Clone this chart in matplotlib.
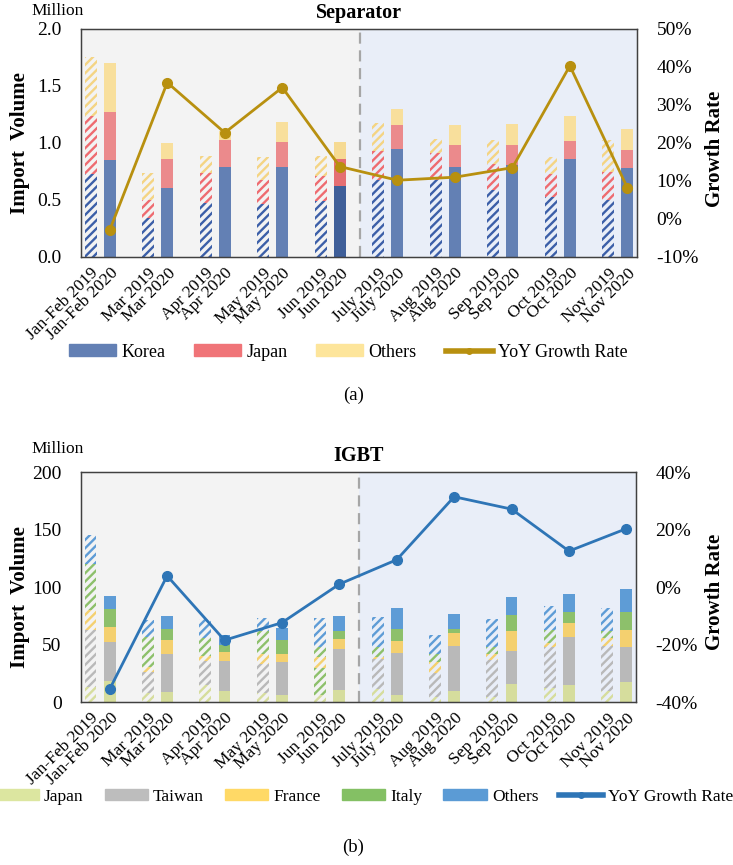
import numpy as np
import matplotlib
matplotlib.use("Agg")
import matplotlib.pyplot as plt
import matplotlib.ticker as mticker
from matplotlib.patches import Patch
from matplotlib.lines import Line2D

plt.rcParams.update({
    "font.family": ["Liberation Serif", "DejaVu Serif"],
    "hatch.linewidth": 1.7,
})

PERIODS = ["Jan-Feb", "Mar", "Apr", "May", "Jun", "July", "Aug", "Sep", "Oct", "Nov"]

# ---- Separator (million) ----
SEP_KOREA_19 = [0.73, 0.345, 0.474, 0.465, 0.491, 0.675, 0.675, 0.588, 0.524, 0.50]
SEP_JAPAN_19 = [0.51, 0.155, 0.26, 0.208, 0.222, 0.255, 0.237, 0.231, 0.207, 0.246]
SEP_OTHERS_19 = [0.51, 0.237, 0.155, 0.204, 0.176, 0.243, 0.12, 0.204, 0.146, 0.28]
SEP_KOREA_20 = [0.85, 0.608, 0.787, 0.787, 0.626, 0.95, 0.792, 0.804, 0.857, 0.784]
SEP_JAPAN_20 = [0.425, 0.252, 0.243, 0.222, 0.234, 0.205, 0.188, 0.176, 0.161, 0.156]
SEP_OTHERS_20 = [0.425, 0.137, 0.075, 0.175, 0.149, 0.14, 0.175, 0.184, 0.222, 0.18]
SEP_GROWTH = [-2.9, 35.9, 22.7, 34.6, 13.8, 10.2, 11.0, 13.5, 40.3, 8.2]

# ---- IGBT (million) ----
IGBT_JAPAN_19 = [13, 7.5, 14.8, 7.5, 6, 11, 4.6, 4.6, 11.9, 9.6]
IGBT_TAIWAN_19 = [49.6, 18.3, 20.6, 25.5, 23.3, 26.1, 20.4, 31.9, 35.6, 39.1]
IGBT_FRANCE_19 = [17.4, 4.7, 4.9, 8.7, 10.1, 2.3, 10, 5.5, 4.1, 6.7]
IGBT_ITALY_19 = [40, 26, 15.7, 20.3, 8.6, 8.1, 6.5, 5.5, 11, 6.3]
IGBT_OTHERS_19 = [25, 14.8, 16, 11, 24.8, 26.1, 16.5, 24.5, 20.9, 19.8]
IGBT_JAPAN_20 = [18, 8.7, 9.6, 6, 10.4, 5.8, 9.6, 15.6, 14.8, 17.7]
IGBT_TAIWAN_20 = [34, 33, 26.4, 28.5, 35.6, 36.5, 39.4, 28.7, 41.4, 30.4]
IGBT_FRANCE_20 = [13, 12.3, 7.5, 7.2, 8.8, 10.7, 11.3, 17.7, 12.2, 14.8]
IGBT_ITALY_20 = [15.6, 9.5, 5.8, 12.3, 7.2, 10.5, 3.2, 13.6, 10.1, 15.6]
IGBT_OTHERS_20 = [11.9, 11.5, 9, 10, 13, 18, 13, 16, 15.1, 19.5]
IGBT_GROWTH = [-35.5, 3.9, -18.5, -12.4, 1.0, 9.5, 31.4, 27.1, 12.5, 20.3]

BG_LEFT = "#f3f3f3"
BG_RIGHT = "#e9eef8"

# slots: 2019, 2020, gap  (no gap after last pair)
N_SLOTS = 3 * len(PERIODS) - 1
X19 = np.arange(len(PERIODS)) * 3
X20 = X19 + 1
WIDTH = 0.62


def base_axes(ax, ymax, ystep, rlim, rstep, title):
    ax.set_xlim(-0.5, N_SLOTS - 0.5)
    ax.axvspan(-0.5, 14.05, color=BG_LEFT, zorder=0, lw=0)
    ax.axvspan(14.05, N_SLOTS - 0.5, color=BG_RIGHT, zorder=0, lw=0)
    ax.axvline(14.05, color="#a6a6a6", lw=1.6, ls=(0, (5, 3)), zorder=1)
    ax.set_ylim(0, ymax)
    ax.set_yticks(np.arange(0, ymax + ystep / 2, ystep))
    for s in ax.spines.values():
        s.set_color("#404040")
        s.set_linewidth(1.0)
    ax.tick_params(length=0, labelsize=14, pad=14)
    ticks = sorted(list(X19) + list(X20))
    labels = []
    for p in PERIODS:
        labels += [f"{p} 2019", f"{p} 2020"]
    ax.set_xticks(ticks)
    ax.set_xticklabels(labels, rotation=45, ha="right", va="top",
                       rotation_mode="anchor", fontsize=12.5)
    ax.tick_params(axis="x", pad=6)

    ax2 = ax.twinx()
    ax2.set_ylim(*rlim)
    ax2.set_yticks(np.arange(rlim[0], rlim[1] + rstep / 2, rstep))
    ax2.yaxis.set_major_formatter(mticker.FuncFormatter(lambda v, _: f"{v:.0f}%"))
    ax2.tick_params(length=0, labelsize=14, pad=14)
    for s in ax2.spines.values():
        s.set_color("#404040")
    ax2.set_zorder(ax.get_zorder() + 1)
    ax2.patch.set_visible(False)
    ax.set_title(title, fontsize=14.5, fontweight="bold", pad=8)
    return ax2


def stack(ax, x, series, colors, hatched, overrides=None):
    bottom = np.zeros(len(x))
    for k, (vals, col) in enumerate(zip(series, colors)):
        vals = np.asarray(vals, dtype=float)
        for i in range(len(x)):
            c = col
            if overrides and (i, k) in overrides:
                c = overrides[(i, k)]
            if hatched:
                ax.bar(x[i], vals[i], WIDTH, bottom=bottom[i], facecolor="none",
                       edgecolor=c, hatch="////", lw=0, zorder=2)
            else:
                ax.bar(x[i], vals[i], WIDTH, bottom=bottom[i], color=c,
                       lw=0, zorder=2)
        bottom += vals


fig = plt.figure(figsize=(7.33, 8.65), dpi=100)

# ---------------- (a) Separator ----------------
ax = fig.add_axes([0.1105, 0.7029, 0.7585, 0.2636])
ax2 = base_axes(ax, 2.0, 0.5, (-10, 50), 10, "Separator")
ax.yaxis.set_major_formatter(mticker.FormatStrFormatter("%.1f"))

sep_fill = ["#6380b4", "#eb8a8c", "#f8df9c"]
sep_hatch = ["#3c5fa8", "#ee6b70", "#f4d483"]
stack(ax, X19, [SEP_KOREA_19, SEP_JAPAN_19, SEP_OTHERS_19], sep_hatch, True)
stack(ax, X20, [SEP_KOREA_20, SEP_JAPAN_20, SEP_OTHERS_20], sep_fill, False,
      overrides={(4, 0): "#3f5f99", (4, 1): "#e56f73", (4, 2): "#f6da92"})
sep_line = "#b8900f"
ax2.plot(X20, SEP_GROWTH, color=sep_line, lw=2, marker="o", ms=7, zorder=5)

fig.text(0.079, 0.987, "Million", ha="center", va="center", fontsize=12.5)
fig.text(0.027, 0.835, "Import  Volume", rotation=90, ha="center", va="center",
         fontsize=15, fontweight="bold")
fig.text(0.975, 0.828, "Growth Rate", rotation=90, ha="center", va="center",
         fontsize=15, fontweight="bold")

h_a = [Patch(color=sep_fill[0], label="Korea"),
       Patch(color="#f07478", label="Japan"),
       Patch(color="#fde59b", label="Others"),
       Line2D([], [], color=sep_line, lw=4, marker="o", ms=4, label="YoY Growth Rate")]
fig.legend(handles=h_a, loc="center", bbox_to_anchor=(0.475, 0.593), ncol=4,
           frameon=False, fontsize=13, handlelength=2.6, handleheight=0.6,
           columnspacing=1.6, handletextpad=0.3)
fig.text(0.482, 0.543, "(a)", ha="center", va="center", fontsize=13.5)

# ---------------- (b) IGBT ----------------
bx = fig.add_axes([0.1105, 0.1884, 0.7571, 0.2659])
bx2 = base_axes(bx, 200, 50, (-40, 40), 20, "IGBT")

igbt_fill = ["#d6dd9d", "#b9b9b9", "#f4d06f", "#8dc06b", "#5e9cd6"]
stack(bx, X19, [IGBT_JAPAN_19, IGBT_TAIWAN_19, IGBT_FRANCE_19, IGBT_ITALY_19,
                IGBT_OTHERS_19], igbt_fill, True, overrides={(4, 1): "#8dc06b"})
stack(bx, X20, [IGBT_JAPAN_20, IGBT_TAIWAN_20, IGBT_FRANCE_20, IGBT_ITALY_20,
                IGBT_OTHERS_20], igbt_fill, False)
igbt_line = "#2e75b6"
bx2.plot(X20, IGBT_GROWTH, color=igbt_line, lw=2, marker="o", ms=7, zorder=5)

fig.text(0.079, 0.481, "Million", ha="center", va="center", fontsize=12.5)
fig.text(0.027, 0.31, "Import  Volume", rotation=90, ha="center", va="center",
         fontsize=15, fontweight="bold")
fig.text(0.975, 0.316, "Growth Rate", rotation=90, ha="center", va="center",
         fontsize=15, fontweight="bold")

h_b = [Patch(color="#dce6a0", label="Japan"),
       Patch(color="#bdbdbd", label="Taiwan"),
       Patch(color="#ffd966", label="France"),
       Patch(color="#84c064", label="Italy"),
       Patch(color="#5b9bd5", label="Others"),
       Line2D([], [], color=igbt_line, lw=4, marker="o", ms=4, label="YoY Growth Rate")]
fig.legend(handles=h_b, loc="center", bbox_to_anchor=(0.497, 0.079), ncol=6,
           frameon=False, fontsize=12.5, handlelength=2.5, handleheight=0.6,
           columnspacing=1.2, handletextpad=0.3, borderpad=0.1)
fig.text(0.482, 0.02, "(b)", ha="center", va="center", fontsize=13.5)

fig.savefig("out.png", dpi=100)
